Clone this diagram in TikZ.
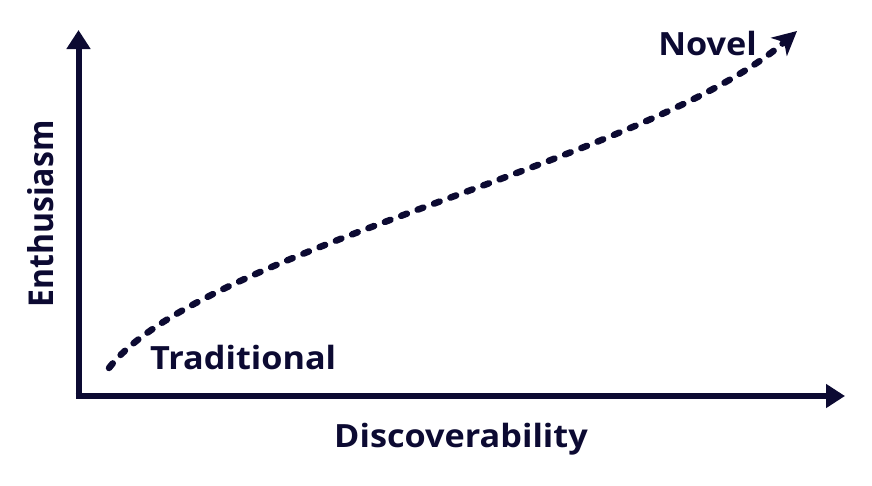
\documentclass[tikz,border=0pt]{standalone}
\usepackage{fontspec}
\setmainfont{Open Sans}
\usetikzlibrary{arrows.meta}
\definecolor{ink}{RGB}{12,10,50}
\begin{document}
\begin{tikzpicture}[x=1pt,y=-1pt,
  axis/.style={draw=ink,line width=6pt,-{Triangle[length=19pt,width=23pt]}},
  trend/.style={draw=ink,line width=6.5pt,line cap=round,dash pattern=on 6pt off 11.5pt,-{Stealth[length=24pt,width=24pt,inset=7pt]}},
  lbl/.style={text=ink,font=\bfseries\fontsize{32}{35}\selectfont,inner sep=0pt,xscale=1.07}]
\useasboundingbox (0,0) rectangle (872,485);
\coordinate (O) at (78.5,396);
\coordinate (ytop) at (78.5,30);
\coordinate (xend) at (845,396);
\coordinate (cs) at (109,368);
\coordinate (ce) at (797,31);
\draw[axis] ([xshift=-3pt]O) -- (xend);
\draw[axis] ([yshift=3pt]O) -- (ytop);
\draw[trend] (cs) .. controls (200,250) and (650,160) .. (ce);
\node[lbl,anchor=base west] (trad) at (150,369) {Traditional};
\node[lbl,anchor=base east] (novel) at (757,55) {Novel};
\node[lbl,anchor=base] (disc) at (461,447) {Discoverability};
\node[lbl,anchor=base,rotate=90] (enth) at (53,214) {Enthusiasm};
\end{tikzpicture}
\end{document}
